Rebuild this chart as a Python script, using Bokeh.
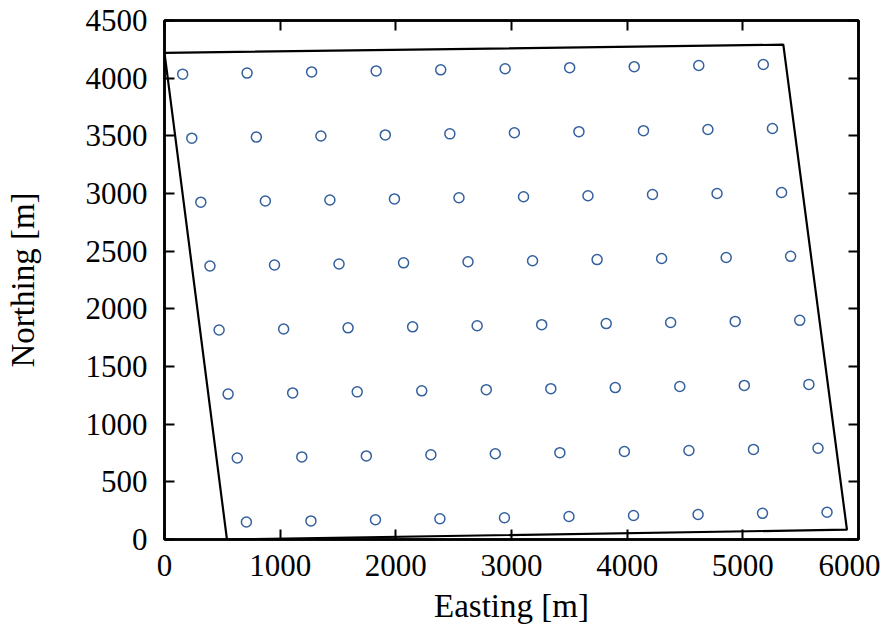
from bokeh.plotting import figure
from bokeh.models import LinearAxis, FixedTicker, Range1d, CustomJSTickFormatter
from bokeh.embed import file_html
from bokeh.resources import INLINE

# Turbine positions, row by row (top row first)
turbine_x = [
    157, 714, 1272, 1830, 2388, 2945, 3503, 4061, 4619, 5177,
    236, 794, 1352, 1909, 2467, 3025, 3583, 4141, 4698, 5256,
    314, 872, 1430, 1988, 2546, 3104, 3661, 4219, 4777, 5335,
    393, 951, 1509, 2067, 2624, 3182, 3740, 4298, 4856, 5413,
    472, 1030, 1587, 2145, 2703, 3261, 3819, 4376, 4934, 5492,
    550, 1108, 1666, 2224, 2782, 3340, 3897, 4455, 5013, 5571,
    629, 1187, 1745, 2303, 2860, 3418, 3976, 4534, 5092, 5650,
    708, 1266, 1824, 2381, 2939, 3497, 4055, 4613, 5170, 5728,
]
turbine_y = [
    4035, 4044, 4054, 4063, 4072, 4082, 4091, 4100, 4110, 4119,
    3480, 3489, 3499, 3508, 3517, 3527, 3536, 3545, 3555, 3564,
    2925, 2935, 2944, 2953, 2963, 2972, 2981, 2991, 3000, 3009,
    2371, 2380, 2389, 2399, 2408, 2417, 2427, 2436, 2445, 2455,
    1816, 1825, 1835, 1844, 1853, 1863, 1872, 1881, 1891, 1900,
    1261, 1271, 1280, 1289, 1299, 1308, 1317, 1327, 1336, 1345,
    707, 716, 725, 735, 744, 753, 763, 772, 781, 791,
    152, 161, 171, 180, 189, 199, 208, 217, 227, 236,
]

# Site boundary polygon
boundary_x = [0, 5350, 5900, 540, 0]
boundary_y = [4220, 4290, 85, 0, 4220]

x_ticks = [0, 1000, 2000, 3000, 4000, 5000, 6000]
y_ticks = [0, 500, 1000, 1500, 2000, 2500, 3000, 3500, 4000, 4500]

FONT = "Liberation Serif"
TICK_FS = "31px"
LABEL_FS = "33px"

p = figure(
    frame_width=694, frame_height=519,
    min_border_left=164, min_border_right=22, min_border_top=20, min_border_bottom=88,
    x_range=Range1d(0, 6000), y_range=Range1d(0, 4500),
    output_backend="svg", toolbar_location=None,
    x_axis_label="Easting [m]", y_axis_label="Northing [m]",
)
p.background_fill_color = "white"
p.border_fill_color = "white"
p.xgrid.visible = False
p.ygrid.visible = False
p.outline_line_color = "black"
p.outline_line_width = 2.5

p.line(boundary_x, boundary_y, line_color="black", line_width=2.2)
p.scatter(turbine_x, turbine_y, marker="circle", size=10, fill_color=None,
          line_color="#34609e", line_width=1.5)

def style(ax, ticks, labels=True):
    ax.ticker = FixedTicker(ticks=ticks)
    ax.axis_line_color = "black"
    ax.axis_line_width = 2.5
    ax.major_tick_in = 10
    ax.major_tick_out = 0
    ax.major_tick_line_width = 2
    ax.major_tick_line_color = "black"
    ax.minor_tick_line_color = None
    ax.major_label_text_font = FONT
    ax.major_label_text_color = "black"
    ax.axis_label_text_font = FONT
    ax.axis_label_text_font_style = "normal"
    ax.axis_label_text_color = "black"
    ax.axis_label_text_font_size = LABEL_FS
    if labels:
        ax.major_label_text_font_size = TICK_FS
    else:
        ax.formatter = CustomJSTickFormatter(code="return ''")
        ax.major_label_text_font_size = "0px"
        ax.major_label_standoff = 0

style(p.xaxis[0], x_ticks)
style(p.yaxis[0], y_ticks)
p.xaxis[0].major_label_standoff = 15
p.xaxis[0].axis_label_standoff = 9
p.yaxis[0].major_label_standoff = 17
p.yaxis[0].axis_label_standoff = 42

top = LinearAxis()
style(top, x_ticks, labels=False)
p.add_layout(top, "above")
right = LinearAxis()
style(right, y_ticks, labels=False)
p.add_layout(right, "right")

open("out.html", "w").write(file_html(p, INLINE))
